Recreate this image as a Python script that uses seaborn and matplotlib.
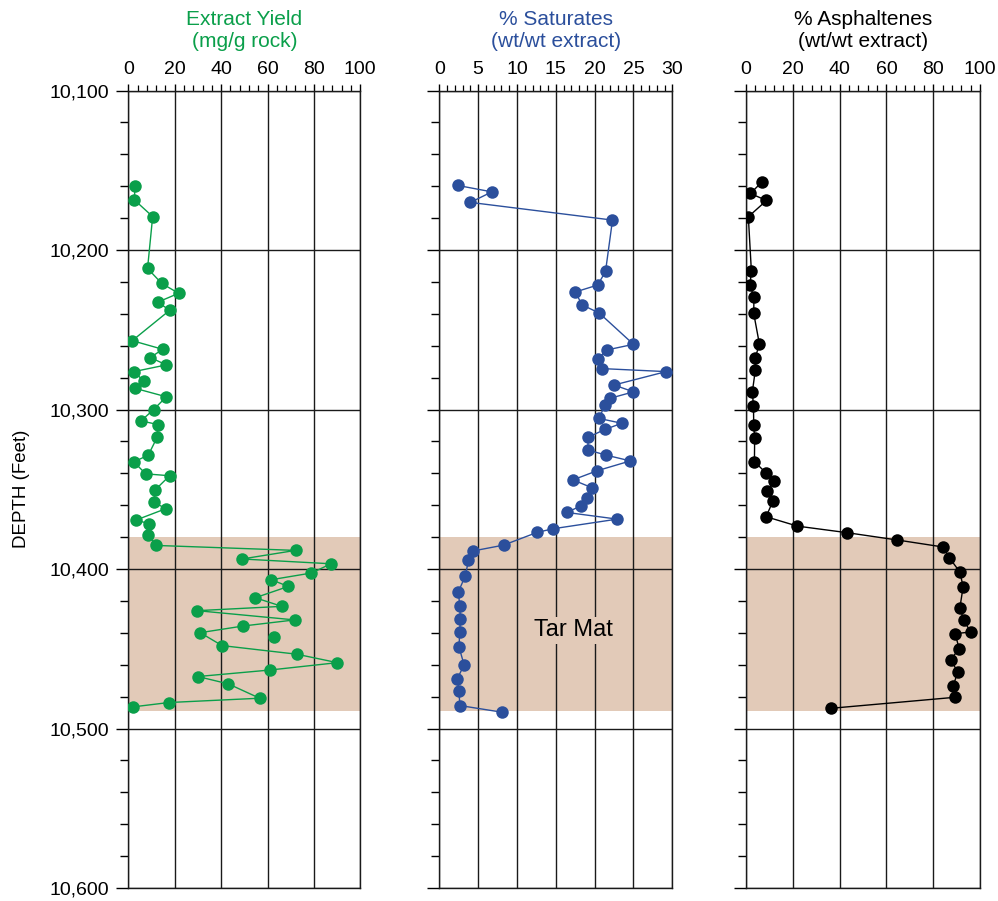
import matplotlib
matplotlib.use("Agg")
import matplotlib.pyplot as plt
from matplotlib.ticker import MultipleLocator, FuncFormatter
import seaborn as sns

# ---------------- data ----------------
yield_depth = [10160, 10168.5, 10179, 10211.5, 10220.9, 10227.1, 10232.6, 10237.8, 10256.8, 10262.2,
               10267.4, 10272, 10276.2, 10282, 10286.6, 10292, 10300, 10307.1, 10309.4, 10317.5,
               10328.6, 10332.8, 10340.3, 10341.5, 10350.5, 10358, 10362.2, 10369.3, 10371.6, 10378.7,
               10385.2, 10388.3, 10393.7, 10396.7, 10402.5, 10406.7, 10410.9, 10418, 10423.4, 10426.1,
               10431.9, 10435.7, 10439.9, 10448, 10453.4, 10458.7, 10463.3, 10467.4, 10472, 10481,
               10483.7, 10486.4]
yield_val = [2.9, 2.6, 10.5, 8.3, 14.4, 21.7, 12.8, 17.8, 1.7, 14.8,
             9.5, 16.4, 2.4, 6.6, 2.7, 16.4, 10.9, 5.5, 12.8, 12.4,
             8.6, 2.4, 7.5, 17.8, 11.5, 11.1, 16.1, 3.3, 9.1, 8.6,
             12.1, 72.1, 49.0, 87.4, 78.9, 61.6, 69.0, 54.7, 66.2, 29.7,
             71.7, 49.6, 31.0, 40.4, 72.6, 90.1, 61.2, 30.0, 43.1, 56.6,
             17.5, 2.2]
yield_unlinked_depth = [10442.6]
yield_unlinked_val = [62.6]

sat_depth = [10159.5, 10163.5, 10170.1, 10181.2, 10213.4, 10221.9, 10226.3, 10234.4, 10239.5, 10259.1,
             10262.6, 10268.1, 10274.3, 10276.2, 10284.6, 10288.9, 10292.9, 10296.9, 10305.6, 10308.6,
             10312.5, 10317.3, 10325.3, 10328.6, 10332.2, 10338.4, 10344.1, 10349.1, 10355.3, 10360.3,
             10364.5, 10368.7, 10374.7, 10377, 10385, 10388.7, 10394.6, 10404.2, 10414.2, 10423.2,
             10431.5, 10439.2, 10448.9, 10460.1, 10468.7, 10476.2, 10485.6, 10489.8]
sat_val = [2.41, 6.77, 4.0, 22.3, 21.4, 20.4, 17.5, 18.4, 20.6, 25.0,
           21.6, 20.4, 20.9, 29.2, 22.5, 25.0, 22.0, 21.3, 20.6, 23.5,
           21.3, 19.2, 19.1, 21.5, 24.6, 20.3, 17.2, 19.7, 19.0, 18.3,
           16.4, 22.9, 14.7, 12.6, 8.28, 4.31, 3.75, 3.36, 2.46, 2.63,
           2.72, 2.63, 2.54, 3.19, 2.33, 2.5, 2.67, 8.1]

asph_depth = [10157.4, 10164.5, 10168.9, 10179.1, 10213.2, 10222.1, 10229.4, 10239.7, 10258.7, 10267.6,
              10275.2, 10289, 10297.9, 10309.6, 10317.8, 10332.6, 10339.7, 10344.9, 10350.9, 10357.4,
              10367.2, 10373.1, 10377.2, 10381.8, 10386.2, 10392.9, 10401.9, 10411.1, 10424.2, 10432.2,
              10439.5, 10440.5, 10450.1, 10456.8, 10464.5, 10473.1, 10480.4, 10487.3]
asph_val = [6.75, 1.87, 8.76, 1.0, 2.3, 1.7, 3.4, 3.3, 5.7, 4.0,
            4.0, 2.7, 3.2, 3.3, 3.7, 3.6, 8.5, 11.9, 9.1, 11.5,
            8.6, 22.0, 43.2, 64.7, 84.3, 86.9, 91.4, 92.8, 91.4, 93.1,
            96.0, 89.4, 91.1, 87.4, 90.5, 88.6, 89.5, 36.5]

tar_mat_top, tar_mat_base = 10380, 10489
depth_limits = (10100, 10600)

titles = [("Extract Yield", "(mg/g rock)"),
          ("% Saturates", "(wt/wt extract)"),
          ("% Asphaltenes", "(wt/wt extract)")]

# ---------------- style ----------------
sns.set_theme(style="white")
plt.rcParams["font.family"] = ["Liberation Sans", "DejaVu Sans"]

GREEN = "#0A9F4A"
BLUE = "#2B4F9C"
BLACK = "#000000"
TAN = "#E2CAB8"
GRID = "#1a1a1a"

fig = plt.figure(figsize=(9.98, 9.01), dpi=100)
H = 797.4 / 901
B = 13 / 901
axes = [fig.add_axes([128.3 / 998, B, 232 / 998, H]),
        fig.add_axes([439.3 / 998, B, 233 / 998, H]),
        fig.add_axes([746 / 998, B, 234 / 998, H])]

panels = [
    (yield_val, yield_depth, GREEN, (0, 100), 20, 4),
    (sat_val, sat_depth, BLUE, (0, 30), 5, 1),
    (asph_val, asph_depth, BLACK, (0, 100), 20, 4),
]

for i, (ax, (xv, dv, col, xlim, maj, mnr)) in enumerate(zip(axes, panels)):
    ax.axhspan(tar_mat_top, tar_mat_base, color=TAN, lw=0, zorder=0.5)
    sns.lineplot(x=xv, y=dv, ax=ax, sort=False, estimator=None, color=col,
                 lw=1.0, marker="o", markersize=9, markeredgewidth=0, zorder=4)
    if i == 0:
        sns.scatterplot(x=yield_unlinked_val, y=yield_unlinked_depth, ax=ax,
                        color=col, s=81, linewidth=0, zorder=4)
    ax.set_xlim(*xlim)
    ax.set_ylim(depth_limits[1], depth_limits[0])
    ax.xaxis.set_major_locator(MultipleLocator(maj))
    ax.xaxis.set_minor_locator(MultipleLocator(mnr))
    ax.yaxis.set_major_locator(MultipleLocator(100))
    ax.yaxis.set_minor_locator(MultipleLocator(20))
    ax.xaxis.tick_top()
    ax.tick_params(axis="x", which="major", top=True, bottom=False, direction="out",
                   length=5, width=1, color="black", labelsize=14, pad=4, labelcolor="black")
    ax.tick_params(axis="x", which="minor", top=True, bottom=False, direction="out",
                   length=4, width=0.9, color="black")
    ax.tick_params(axis="y", which="major", left=True, direction="out", length=8.5,
                   width=1, color="black", labelsize=14, pad=5, labelcolor="black")
    ax.tick_params(axis="y", which="minor", left=True, direction="out", length=5.5,
                   width=1, color="black")
    ax.grid(True, which="major", color=GRID, lw=1.0)
    ax.grid(False, which="minor")
    for s in ax.spines.values():
        s.set_visible(True)
        s.set_color(GRID)
        s.set_linewidth(1.0)
    if i == 0:
        ax.yaxis.set_major_formatter(FuncFormatter(lambda v, p: f"{int(v):,}"))
        ax.set_ylabel("DEPTH (Feet)", fontsize=13.5, labelpad=14, color="black")
    else:
        ax.set_yticklabels([])
        ax.set_ylabel("")
    ax.set_xlabel("")
    t1, t2 = titles[i]
    ax.text(0.5, 1.0823, t1, transform=ax.transAxes, ha="center", va="baseline",
            fontsize=15, color=col)
    ax.text(0.5, 1.0553, t2, transform=ax.transAxes, ha="center", va="baseline",
            fontsize=15, color=col)

axes[1].text(17.3, 10438.5, "Tar Mat", ha="center", va="center", fontsize=17,
             color="black", zorder=3,
             bbox=dict(facecolor=TAN, edgecolor="none", pad=2))

fig.savefig("out.png", dpi=100)
